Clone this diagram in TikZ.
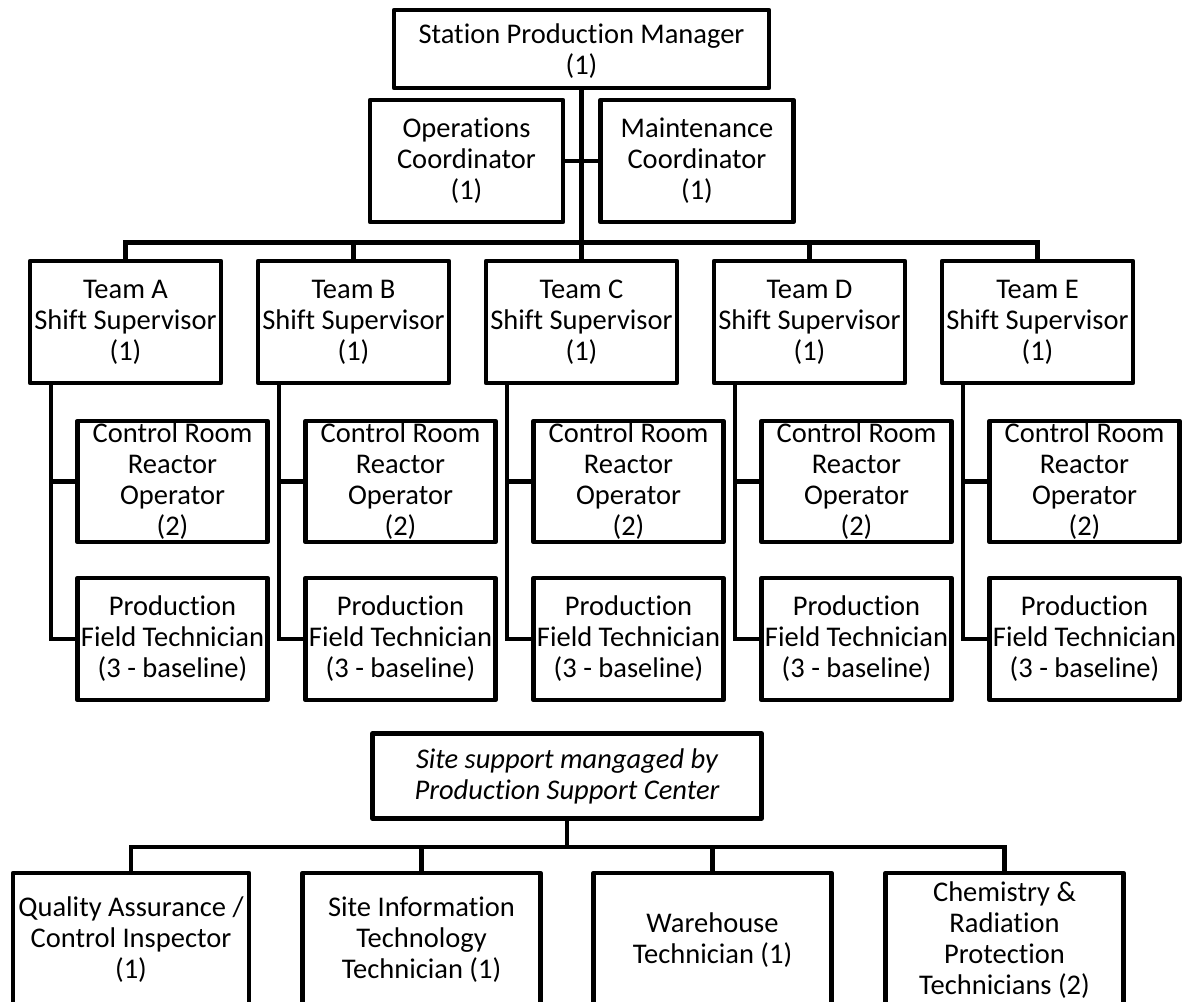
\documentclass[tikz,border=0pt]{standalone}
\usepackage{fontspec}
\setmainfont{Carlito}[Ligatures=NoCommon]
\begin{document}
\begin{tikzpicture}[x=1pt,y=-1pt,
  box/.style={draw=black,line width=4.8pt,rectangle,inner sep=0pt,outer sep=0pt,
    align=center,font=\fontsize{28.5}{31}\selectfont,line join=round},
  wire/.style={draw=black,line width=4.2pt}]
\useasboundingbox (0,0) rectangle (1183,1001);
\fill[white] (0,0) rectangle (1183,1001);

% top of the hierarchy
\node[box,minimum width=375,minimum height=78] (spm) at (581.5,49) {\rule{0pt}{24pt}Station Production Manager\\(1)};
\node[box,minimum width=193,minimum height=122] (ops) at (466.5,161) {Operations\\Coordinator\\(1)};
\node[box,minimum width=193,minimum height=122] (mnt) at (697,161) {Maintenance\\Coordinator\\(1)};

% shift teams
\foreach \t/\cx in {A/125.5,B/353.5,C/581.5,D/809.5,E/1037.5}{
  \node[box,minimum width=191,minimum height=122] (t\t) at (\cx,322) {Team \t\\Shift Supervisor\\(1)};
  \node[box,minimum width=190,minimum height=121] (cr\t) at (\cx+47,481.5) {Control Room\\Reactor\\Operator\\(2)};
  \node[box,minimum width=190,minimum height=122] (pf\t) at (\cx+47,639) {Production\\Field Technician\\(3 - baseline)};
  \path (t\t.south west) ++(21,0) coordinate (s\t);
  \draw[wire] (s\t) |- (cr\t.west);
  \draw[wire] (s\t) |- (pf\t.west);
}

\coordinate (bus) at (581.5,242.5);
\draw[wire] (spm.south) -- (tC.north);
\draw[wire] (ops.east) -- (mnt.west);
\draw[wire] (tA.north) |- (bus) -| (tE.north);
\draw[wire] (tB.north) -- (tB.north |- bus);
\draw[wire] (tD.north) -- (tD.north |- bus);

% site support
\node[box,minimum width=389,minimum height=85,font=\fontsize{28.5}{31}\selectfont\itshape] (psc) at (567,776)
  {Site support mangaged by\\Production Support Center};
\node[box,minimum width=236,minimum height=134] (qa) at (131,940) {Quality Assurance /\\Control Inspector\\(1)};
\node[box,minimum width=238,minimum height=134] (sit) at (421.5,940) {Site Information\\Technology\\Technician (1)};
\node[box,minimum width=238,minimum height=134] (wh) at (712.5,940) {Warehouse\\Technician (1)};
\node[box,minimum width=238,minimum height=134] (crp) at (1004.5,940) {Chemistry \&\\Radiation\\Protection\\Technicians (2)};

\coordinate (sbus) at (567,847);
\draw[wire] (psc.south) -- (sbus);
\draw[wire] (qa.north) |- (sbus) -| (crp.north);
\draw[wire] (sit.north) -- (sit.north |- sbus);
\draw[wire] (wh.north) -- (wh.north |- sbus);
\end{tikzpicture}
\end{document}
